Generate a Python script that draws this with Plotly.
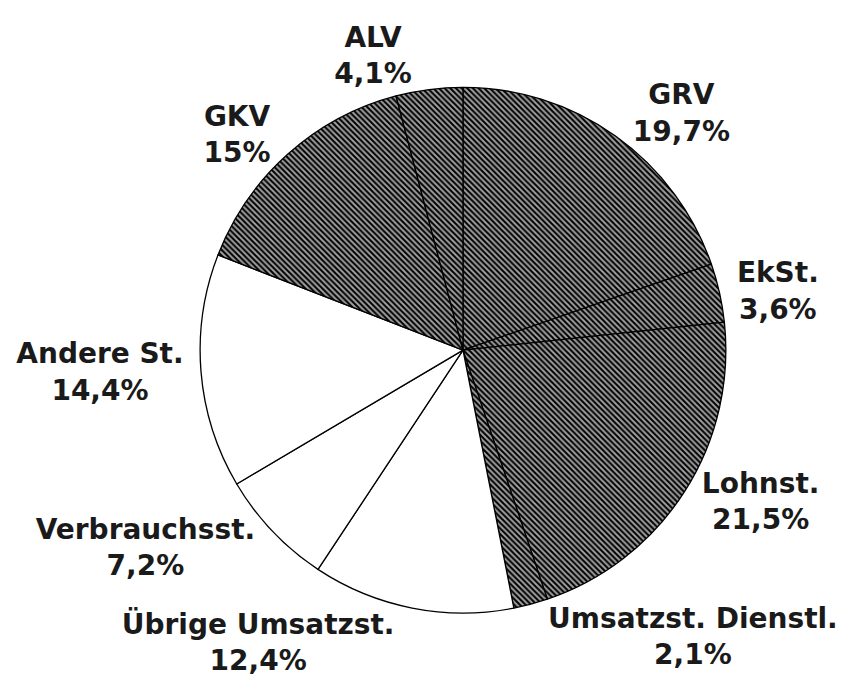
import plotly.graph_objects as go

labels = ["GRV", "EkSt.", "Lohnst.", "Umsatzst. Dienstl.", "Übrige Umsatzst.",
          "Verbrauchsst.", "Andere St.", "GKV", "ALV"]
values = [19.7, 3.6, 21.5, 2.1, 12.4, 7.2, 14.4, 15.0, 4.1]
hatched = [True, True, True, True, False, False, False, True, True]

texts = [f"{l}<br>" + f"{v:g}".replace(".", ",") + "%" for l, v in zip(labels, values)]
shapes = ["\\" if h else "" for h in hatched]

fig = go.Figure(go.Pie(
    labels=labels,
    values=values,
    text=texts,
    textinfo="text",
    textposition="outside",
    sort=False,
    direction="clockwise",
    rotation=0,
    hole=0,
    showlegend=False,
    textfont=dict(family="DejaVu Sans", size=28, color="#1a1a1a", weight="bold"),
    marker=dict(
        colors=["white"] * len(values),
        line=dict(color="black", width=1.3),
        pattern=dict(shape=shapes, fgcolor="#000000", bgcolor="#a0a0a0",
                     size=4, solidity=0.5, fillmode="replace"),
    ),
    domain=dict(x=[0.2251, 0.8417], y=[0.1332, 0.8864]),
))

fig.update_layout(
    width=853, height=698,
    margin=dict(l=0, r=0, t=0, b=0),
    paper_bgcolor="white", plot_bgcolor="white",
)

fig.write_html("out.html")
